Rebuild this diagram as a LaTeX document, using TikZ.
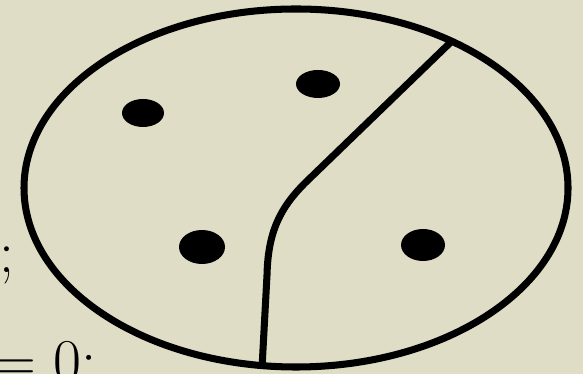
\documentclass[tikz,border=0pt]{standalone}
\usepackage{amsmath}
\usepackage{tikz}
\usetikzlibrary{positioning,calc}
\definecolor{paper}{RGB}{224,221,198}
\tikzset{spot/.style={fill=black},cut/.style={line width=2pt,line join=round},
  bigtxt/.style={inner sep=0pt,anchor=base west,font=\fontsize{17}{20}\selectfont}}

\begin{document}
\begin{tikzpicture}[x=0.01cm,y=-0.01cm]
  \fill[paper] (0,0) rectangle (583,374);
  \useasboundingbox (0,0) rectangle (583,374);
  \node[bigtxt] (semi) at (-1,273){;};
  \node[bigtxt] (eqz) at (-8,381){$=0;$};
  \draw[cut] (296,188) ellipse [x radius=272,y radius=179];
  \fill[spot] (143,113) ellipse [x radius=21,y radius=14];
  \fill[spot] (318,84) ellipse [x radius=22,y radius=14];
  \fill[spot] (202,247) ellipse [x radius=23,y radius=17];
  \fill[spot] (423,245) ellipse [x radius=22,y radius=16];
  \coordinate (rim top) at (453,40);
  \coordinate (rim bot) at (262,368);
  \draw[cut] (rim top) -- (305,183) .. controls (280,208) and (268,232) .. (267,275) -- (rim bot);
\end{tikzpicture}
\end{document}
